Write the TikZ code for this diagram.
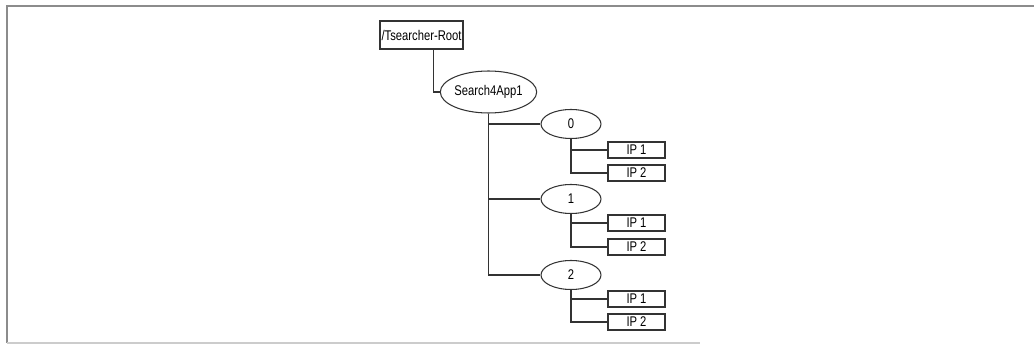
\documentclass[tikz,border=0pt]{standalone}
\usepackage{fontspec}
\setmainfont{Liberation Sans}[FakeStretch=0.8]
\usepackage{tikz}
\usetikzlibrary{shapes.geometric, positioning}

\begin{document}
\begin{tikzpicture}[
    x=0.02cm, y=-0.02cm,
    font=\fontsize{8}{9}\selectfont,
    link/.style={draw=black!80, line width=0.6pt},
    rootbox/.style={rectangle, draw=black!80, line width=0.6pt, inner sep=0pt, minimum width=1.66cm, minimum height=0.56cm},
    appnode/.style={ellipse, draw=black!80, line width=0.6pt, inner sep=0pt, minimum width=1.74cm, minimum height=0.84cm},
    idxnode/.style={ellipse, draw=black!80, line width=0.6pt, inner sep=0pt, minimum width=1.2cm, minimum height=0.58cm},
    ipbox/.style={rectangle, draw=black!80, line width=0.6pt, inner sep=0pt, minimum width=1.14cm, minimum height=0.32cm}
]
    \useasboundingbox (0,0) rectangle (1034,347);
    % frame
    \draw[black!45, line width=0.8pt] (1034,6) -- (7,6) -- (7,343);
    \draw[black!20, line width=0.6pt] (7,343) -- (700,343);

    \node[rootbox] (root) at (421.5,35) {/Tsearcher-Root};
    \node[appnode] (app) at (488.5,92) {Search4App1};

    \node[idxnode] (n0) at (571,124) {0};
    \node[idxnode] (n1) at (571,199) {1};
    \node[idxnode] (n2) at (571,275) {2};

    \node[ipbox] (n0ip1) at (636.5,150) {IP 1};
    \node[ipbox] (n0ip2) at (636.5,173) {IP 2};
    \node[ipbox] (n1ip1) at (636.5,223) {IP 1};
    \node[ipbox] (n1ip2) at (636.5,247) {IP 2};
    \node[ipbox] (n2ip1) at (636.5,299) {IP 1};
    \node[ipbox] (n2ip2) at (636.5,322) {IP 2};

    \draw[link] ([xshift=0.24cm]root.south) |- (app.west);
    \draw[link] (app.south) |- (n0.west);
    \draw[link] (app.south) |- (n1.west);
    \draw[link] (app.south) |- (n2.west);

    \draw[link] (n0.south) |- (n0ip1.west);
    \draw[link] (n0.south) |- (n0ip2.west);
    \draw[link] (n1.south) |- (n1ip1.west);
    \draw[link] (n1.south) |- (n1ip2.west);
    \draw[link] (n2.south) |- (n2ip1.west);
    \draw[link] (n2.south) |- (n2ip2.west);
\end{tikzpicture}
\end{document}
